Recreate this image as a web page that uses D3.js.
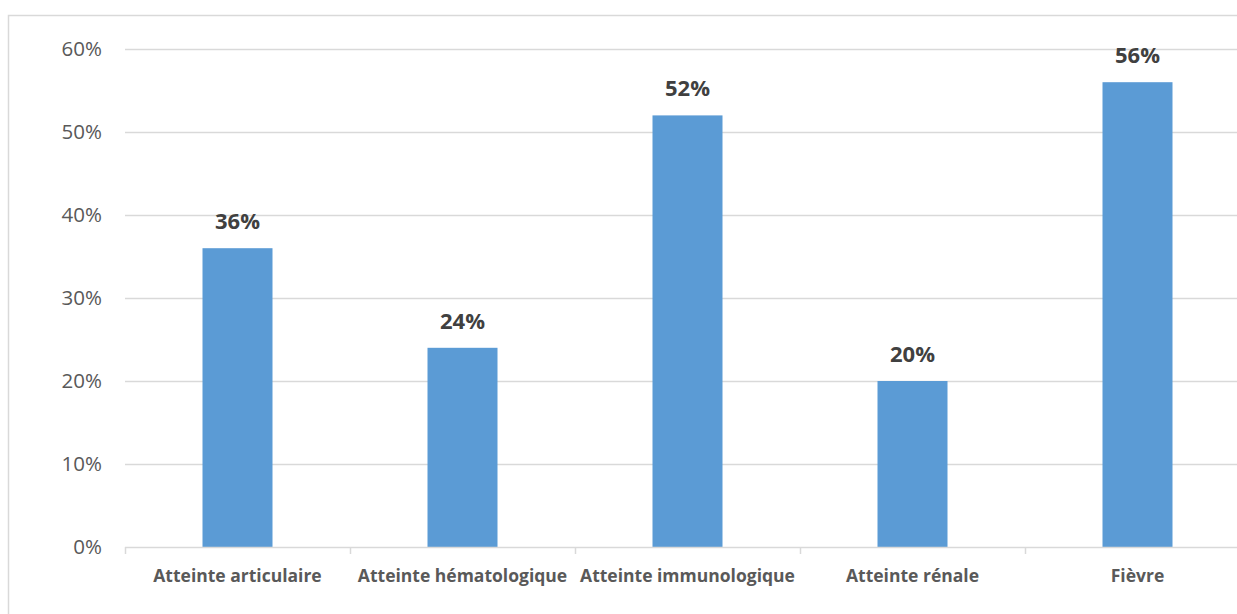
<!DOCTYPE html>
<html>
<head>
<meta charset="utf-8">
<script src="https://cdn.jsdelivr.net/npm/d3@7"></script>
<style>
  html, body { margin: 0; padding: 0; background: #fff; }
  svg { display: block; font-family: "Open Sans", sans-serif; }
</style>
</head>
<body>
<svg id="chart" width="1237" height="614"></svg>
<script>
const categories = ["Atteinte articulaire", "Atteinte hématologique", "Atteinte immunologique", "Atteinte rénale", "Fièvre"];
const values = [0.36, 0.24, 0.52, 0.20, 0.56];
const yTicks = [0, 0.1, 0.2, 0.3, 0.4, 0.5, 0.6];

const svg = d3.select("#chart");

// chart frame
svg.append("rect")
  .attr("x", 8.5).attr("y", 15.5)
  .attr("width", 1300).attr("height", 700)
  .attr("fill", "none").attr("stroke", "#d9d9d9").attr("stroke-width", 1.5);

const plot = { left: 125, right: 1250, top: 49, bottom: 547 };

const x = d3.scaleBand().domain(categories).range([plot.left, plot.right]).paddingInner(0).paddingOuter(0);
const y = d3.scaleLinear().domain([0, 0.6]).range([plot.bottom, plot.top]);
const barW = 70;

// gridlines
svg.append("g").selectAll("line").data(yTicks.filter(d => d > 0)).join("line")
  .attr("x1", plot.left).attr("x2", plot.right)
  .attr("y1", d => Math.round(y(d)) + 0.5).attr("y2", d => Math.round(y(d)) + 0.5)
  .attr("stroke", "#d9d9d9").attr("stroke-width", 1.5);

// y axis labels
svg.append("g").selectAll("text").data(yTicks).join("text")
  .attr("x", 102).attr("y", d => y(d) + 7)
  .attr("text-anchor", "end")
  .attr("font-size", 20.5).attr("fill", "#595959")
  .text(d => d3.format(".0%")(d));

// bars
svg.append("g").selectAll("rect").data(values).join("rect")
  .attr("x", (d, i) => x(categories[i]) + x.bandwidth() / 2 - barW / 2)
  .attr("width", barW)
  .attr("y", d => y(d))
  .attr("height", d => y(0) - y(d))
  .attr("fill", "#5b9bd5");

// x axis line and ticks
svg.append("line")
  .attr("x1", plot.left).attr("x2", plot.right)
  .attr("y1", plot.bottom + 0.5).attr("y2", plot.bottom + 0.5)
  .attr("stroke", "#d9d9d9").attr("stroke-width", 1.5);
const tickPos = categories.map(c => x(c)).concat([plot.right]);
svg.append("g").selectAll("line").data(tickPos).join("line")
  .attr("x1", d => d + 0.5).attr("x2", d => d + 0.5)
  .attr("y1", plot.bottom).attr("y2", plot.bottom + 7)
  .attr("stroke", "#d9d9d9").attr("stroke-width", 1.5);

// category labels
svg.append("g").selectAll("text").data(categories).join("text")
  .attr("x", d => x(d) + x.bandwidth() / 2)
  .attr("y", 582)
  .attr("text-anchor", "middle")
  .attr("font-size", 17.5).attr("font-weight", "bold").attr("fill", "#595959")
  .text(d => d);

// value labels
svg.append("g").selectAll("text").data(values).join("text")
  .attr("x", (d, i) => x(categories[i]) + x.bandwidth() / 2)
  .attr("y", d => y(d) - 19)
  .attr("text-anchor", "middle")
  .attr("font-size", 22).attr("font-weight", "bold").attr("fill", "#404040")
  .text(d => d3.format(".0%")(d));
</script>
</body>
</html>
